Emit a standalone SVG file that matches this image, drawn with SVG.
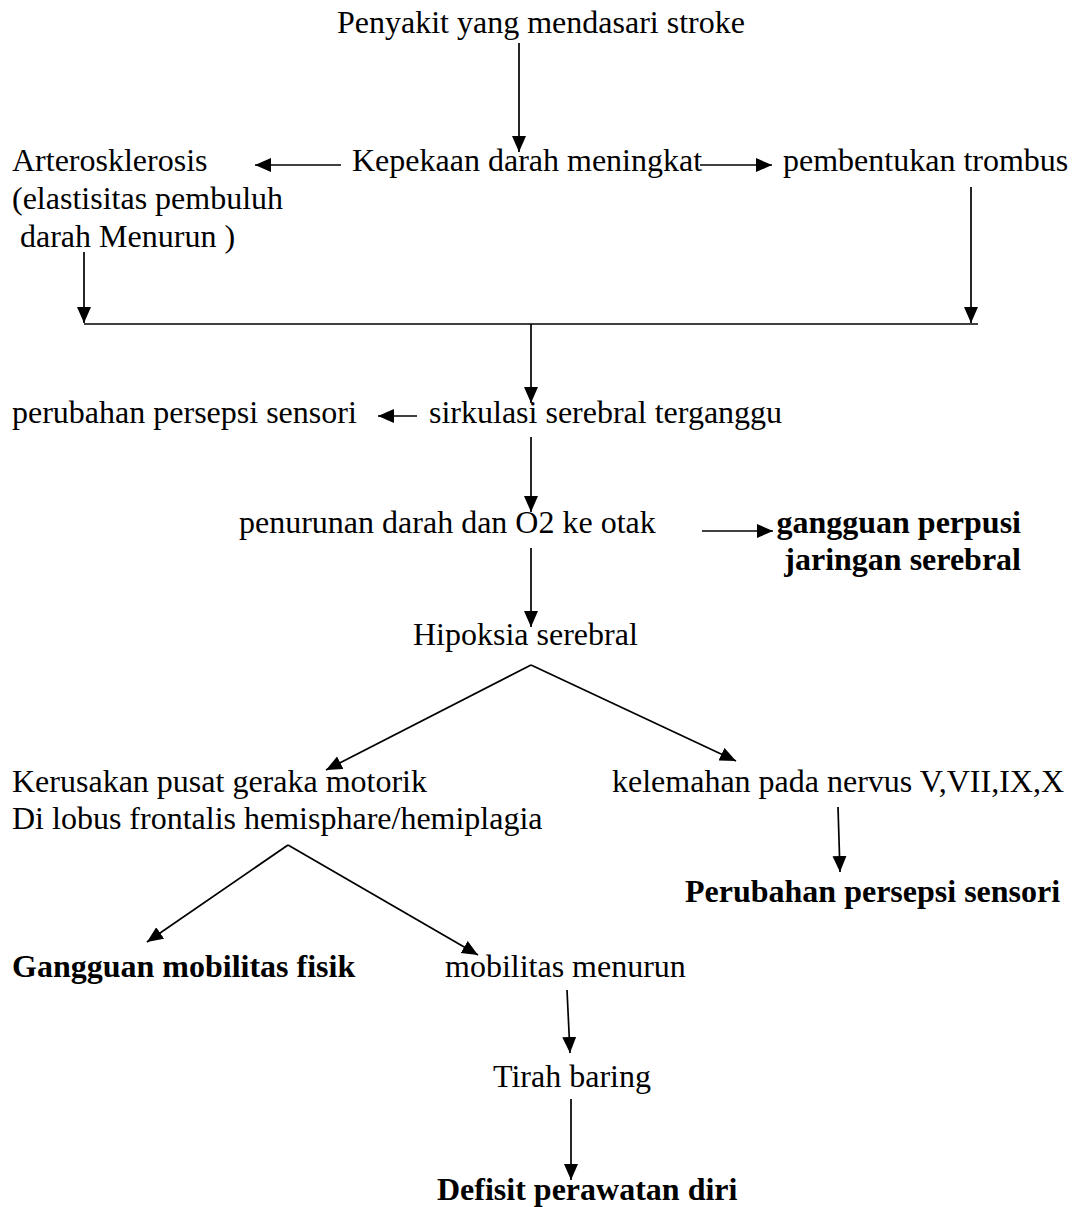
<svg xmlns="http://www.w3.org/2000/svg" width="1077" height="1207" viewBox="0 0 1077 1207">
<style>
text{font-family:"Liberation Serif","Times New Roman",serif;font-size:32px;fill:#000}
.b{font-weight:bold}
.c line,.c polyline{stroke:#000;stroke-width:1.7;fill:none}
</style>
<defs>
<marker id="ah" markerUnits="userSpaceOnUse" markerWidth="17" markerHeight="15" refX="16" refY="7" orient="auto">
<path d="M0,0 L16,7 L0,14 z" fill="#000"/>
</marker>
</defs>
<rect width="1077" height="1207" fill="#fff"/>
<g class="c" id="connectors">
<line x1="519" y1="43" x2="519" y2="152" marker-end="url(#ah)"/>
<line x1="341" y1="165" x2="255" y2="165" marker-end="url(#ah)"/>
<line x1="700" y1="165" x2="772" y2="165" marker-end="url(#ah)"/>
<line x1="84" y1="252" x2="84" y2="323" marker-end="url(#ah)"/>
<line x1="971" y1="187" x2="971" y2="323" marker-end="url(#ah)"/>
<line x1="84" y1="324" x2="978" y2="324"/>
<line x1="531" y1="324" x2="531" y2="403" marker-end="url(#ah)"/>
<line x1="417" y1="416" x2="378" y2="416" marker-end="url(#ah)"/>
<line x1="531" y1="437" x2="531" y2="512" marker-end="url(#ah)"/>
<line x1="702" y1="531" x2="773" y2="531" marker-end="url(#ah)"/>
<line x1="531" y1="548" x2="531" y2="627" marker-end="url(#ah)"/>
<line x1="531" y1="665" x2="326" y2="770" marker-end="url(#ah)"/>
<line x1="531" y1="665" x2="736" y2="761" marker-end="url(#ah)"/>
<line x1="838" y1="807" x2="840" y2="872" marker-end="url(#ah)"/>
<line x1="288" y1="845" x2="147" y2="942" marker-end="url(#ah)"/>
<line x1="288" y1="845" x2="478" y2="955" marker-end="url(#ah)"/>
<line x1="567" y1="990" x2="570" y2="1053" marker-end="url(#ah)"/>
<line x1="571" y1="1099" x2="571" y2="1180" marker-end="url(#ah)"/>
</g>
<g id="n1"><text x="337" y="33">Penyakit yang mendasari stroke</text></g>
<g id="n2"><text x="12" y="171">Arterosklerosis</text><text x="12" y="209">(elastisitas pembuluh</text><text x="20" y="247">darah Menurun )</text></g>
<g id="n3"><text x="352" y="171">Kepekaan darah meningkat</text></g>
<g id="n4"><text x="783" y="171">pembentukan trombus</text></g>
<g id="n5"><text x="12" y="423">perubahan persepsi sensori</text></g>
<g id="n6"><text x="429" y="423">sirkulasi serebral terganggu</text></g>
<g id="n7"><text x="239" y="533">penurunan darah dan O2 ke otak</text></g>
<g id="n8"><text class="b" x="1021" y="533" text-anchor="end">gangguan perpusi</text><text class="b" x="1021" y="570" text-anchor="end">jaringan serebral</text></g>
<g id="n9"><text x="413" y="645">Hipoksia serebral</text></g>
<g id="n10"><text x="12" y="792">Kerusakan pusat geraka motorik</text><text x="12" y="829">Di lobus frontalis hemisphare/hemiplagia</text></g>
<g id="n11"><text x="612" y="792">kelemahan pada nervus V,VII,IX,X</text></g>
<g id="n12"><text class="b" x="685" y="902">Perubahan persepsi sensori</text></g>
<g id="n13"><text class="b" x="12" y="977">Gangguan mobilitas fisik</text></g>
<g id="n14"><text x="445" y="977">mobilitas menurun</text></g>
<g id="n15"><text x="493" y="1087">Tirah baring</text></g>
<g id="n16"><text class="b" x="437" y="1200">Defisit perawatan diri</text></g>
</svg>
